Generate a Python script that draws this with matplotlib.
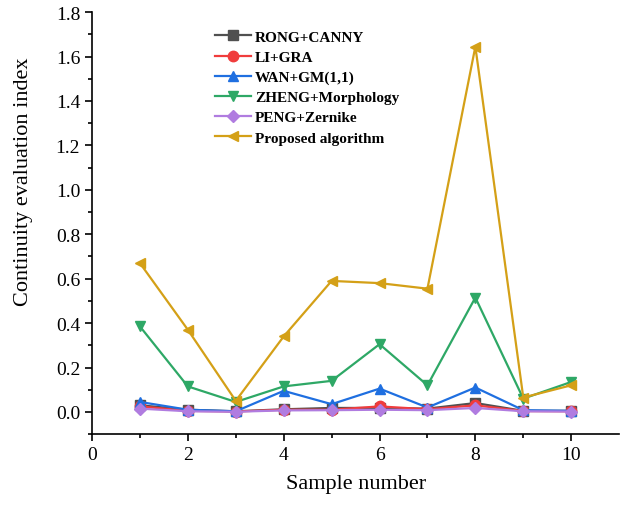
import matplotlib.pyplot as plt
import numpy as np

samples = [1, 2, 3, 4, 5, 6, 7, 8, 9, 10]
rong_canny = [0.030, 0.010, 0.003, 0.012, 0.018, 0.018, 0.015, 0.040, 0.005, 0.005]
li_gra = [0.025, 0.005, 0.002, 0.010, 0.010, 0.025, 0.012, 0.030, 0.004, 0.003]
wan_gm = [0.045, 0.010, 0.003, 0.095, 0.035, 0.105, 0.020, 0.110, 0.008, 0.005]
zheng_morph = [0.385, 0.115, 0.045, 0.115, 0.140, 0.305, 0.120, 0.515, 0.060, 0.135]
peng_zernike = [0.015, 0.003, 0.001, 0.007, 0.008, 0.010, 0.008, 0.018, 0.003, 0.002]
proposed = [0.670, 0.370, 0.050, 0.340, 0.590, 0.580, 0.555, 1.645, 0.065, 0.120]

plt.rcParams['font.family'] = ['Liberation Serif', 'DejaVu Serif']

fig = plt.figure(figsize=(6.26, 5.06), dpi=100)
ax = fig.add_axes([0.147, 0.14, 0.842, 0.834])

series = [
    (rong_canny, 'RONG+CANNY', '#505050', 's'),
    (li_gra, 'LI+GRA', '#f03c3c', 'o'),
    (wan_gm, 'WAN+GM(1,1)', '#1f6fe0', '^'),
    (zheng_morph, 'ZHENG+Morphology', '#2ea866', 'v'),
    (peng_zernike, 'PENG+Zernike', '#b07ce0', 'D'),
    (proposed, 'Proposed algorithm', '#d4a017', '<'),
]
for vals, name, col, mk in series:
    ms = 6.5 if mk == 'D' else 7.5
    ax.plot(samples, vals, color=col, marker=mk, markersize=ms, linewidth=1.6, label=name)

ax.set_xlim(0, 11)
ax.set_ylim(-0.1, 1.8)
ax.set_xticks([0, 2, 4, 6, 8, 10])
ax.set_xticks(np.arange(1, 11, 2), minor=True)
ax.set_yticks(np.arange(0, 1.81, 0.2))
ax.set_yticks(np.arange(-0.1, 1.8, 0.2), minor=True)
ax.yaxis.set_major_formatter(plt.FormatStrFormatter('%.1f'))
ax.spines['top'].set_visible(False)
ax.spines['right'].set_visible(False)
for s in ['left', 'bottom']:
    ax.spines[s].set_linewidth(1.2)
ax.tick_params(which='major', direction='out', length=5, width=1.2, labelsize=14)
ax.tick_params(which='minor', direction='out', length=3, width=1.2)

ax.set_xlabel('Sample number', fontsize=16, labelpad=8)
ax.set_ylabel('Continuity evaluation index', fontsize=16)
ax.yaxis.set_label_coords(-0.112, 0.6)

ax.legend(loc='upper left', bbox_to_anchor=(0.208, 0.99), frameon=False,
          prop={'weight': 'bold', 'size': 11}, handlelength=2.3,
          labelspacing=0.42, handletextpad=0.3)

fig.savefig('out.png', dpi=100)
